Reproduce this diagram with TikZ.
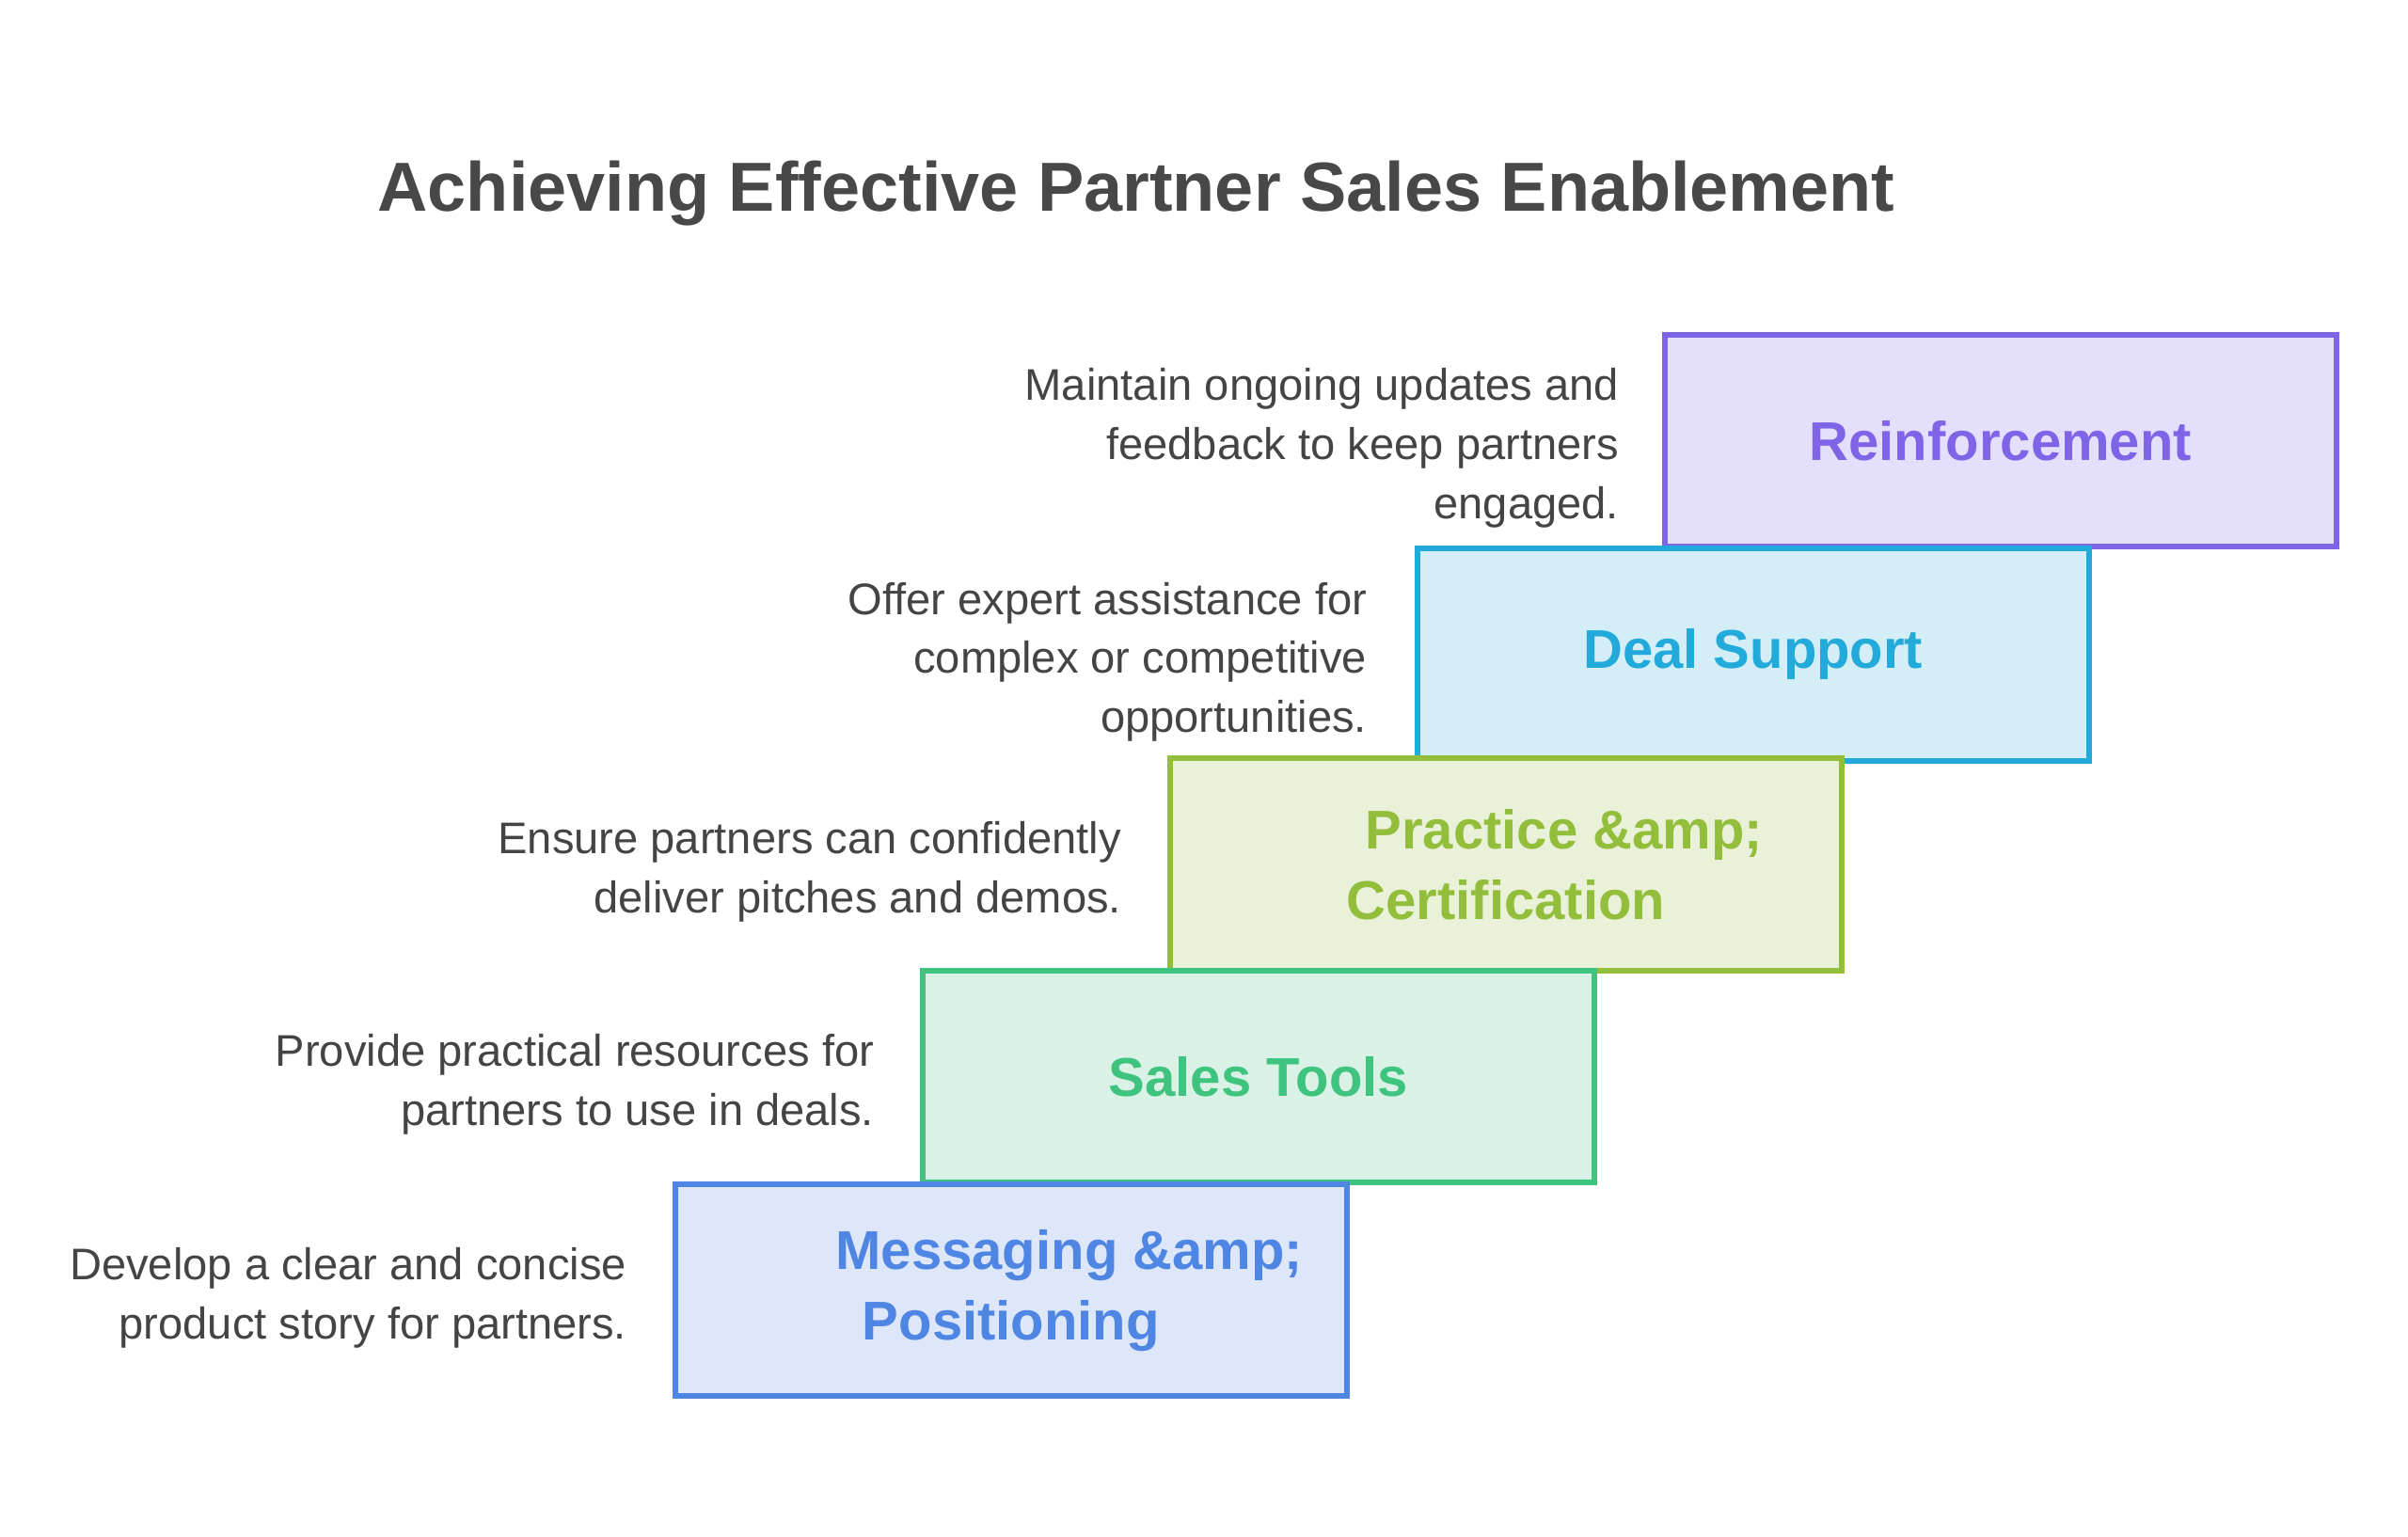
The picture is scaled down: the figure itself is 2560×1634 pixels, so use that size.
\documentclass[tikz,border=0pt]{standalone}
\usepackage{fontspec}
\setmainfont{Liberation Sans}
\usetikzlibrary{positioning}

\definecolor{titlegray}{HTML}{484848}
\definecolor{descgray}{HTML}{444444}
\definecolor{reinfline}{HTML}{8064E8}
\definecolor{reinffill}{HTML}{E4DFFC}
\definecolor{dealline}{HTML}{22AADA}
\definecolor{dealfill}{HTML}{D4EEF8}
\definecolor{practline}{HTML}{93BE3C}
\definecolor{practfill}{HTML}{E9F1D8}
\definecolor{toolline}{HTML}{3EC47E}
\definecolor{toolfill}{HTML}{D9F2E5}
\definecolor{msgline}{HTML}{4F86E4}
\definecolor{msgfill}{HTML}{DDE7F9}

\tikzset{
  stepbox/.style={draw=#1line, fill=#1fill, text=#1line, line width=0.06cm,
    minimum width=7.135cm, minimum height=2.253cm, inner sep=0pt, align=center,
    font=\bfseries\fontsize{16.5}{21.3}\selectfont},
  desc/.style={text=descgray, align=right, inner sep=0pt, yshift=-0.08cm,
    font=\fontsize{13.4}{17.9}\selectfont},
}

\begin{document}
\begin{tikzpicture}[x=0.01cm, y=-0.01cm]
    \useasboundingbox (0,0) rectangle (2560,1634);
    \node[text=titlegray, font=\bfseries\fontsize{21}{25}\selectfont, anchor=base] (title) at (1208,225) {Achieving Effective Partner Sales Enablement};
    % steps, drawn top to bottom so each lower box lies over the one above
    \node[stepbox=reinf] (reinf) at (2126.8,468.5) {Reinforcement};
    \node[stepbox=deal] (deal) at (1863.8,695.8) {Deal Support};
    \node[stepbox=pract] (pract) at (1600.8,919.1) {\hspace*{1.24cm}Practice \&amp;\\Certification};
    \node[stepbox=tool] (tool) at (1337.8,1144.4) {Sales Tools};
    \node[stepbox=msg] (msg) at (1074.8,1371.7) {\hspace*{1.24cm}Messaging \&amp;\\Positioning};
    % descriptions
    \node[desc, left=0.45cm of reinf] (reinfdesc) {Maintain ongoing updates and\\feedback to keep partners\\engaged.};
    \node[desc, left=0.5cm of deal] (dealdesc) {Offer expert assistance for\\complex or competitive\\opportunities.};
    \node[desc, left=0.48cm of pract] (practdesc) {Ensure partners can confidently\\deliver pitches and demos.};
    \node[desc, left=0.48cm of tool] (tooldesc) {Provide practical resources for\\partners to use in deals.};
    \node[desc, left=0.48cm of msg] (msgdesc) {Develop a clear and concise\\product story for partners.};
\end{tikzpicture}
\end{document}
